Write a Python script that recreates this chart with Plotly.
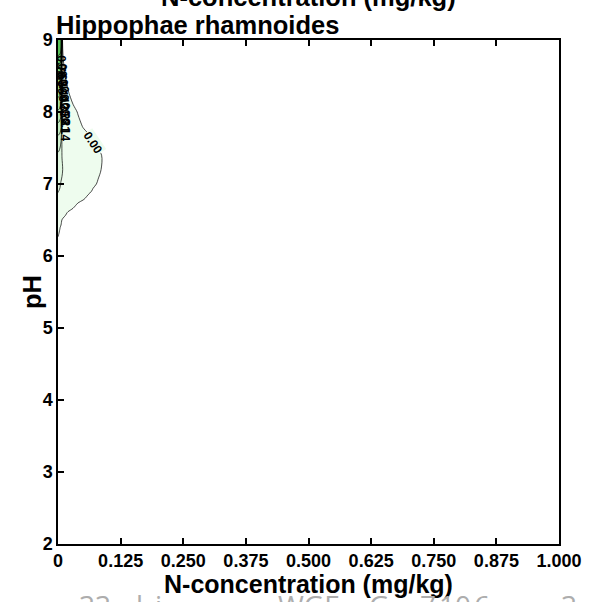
import plotly.graph_objects as go

# grid of N-concentration (x) and pH (y) with estimated contour values
n_conc = [0, 0.002, 0.004, 0.006, 0.008, 0.01, 0.015, 0.02, 0.03, 0.04, 0.05, 0.06, 0.07, 0.08, 0.09, 0.1, 1.0]
ph = [2.0, 6.0, 6.25, 6.4, 6.5, 6.6, 6.7, 6.8, 6.9, 7.0, 7.2, 7.4, 7.6, 7.8, 8.0, 8.2, 8.4, 8.6, 8.8, 9.0]
z_vals = [
    [-0.05, -0.05, -0.05, -0.05, -0.05, -0.05, -0.05, -0.05, -0.05, -0.05, -0.05, -0.05, -0.05, -0.05, -0.05, -0.05, -0.05],
    [-0.03, -0.03, -0.03, -0.03, -0.03, -0.03, -0.03, -0.03, -0.03, -0.03, -0.03, -0.03, -0.03, -0.03, -0.03, -0.03, -0.05],
    [-0.001, -0.004, -0.008, -0.012, -0.016, -0.02, -0.02, -0.02, -0.02, -0.02, -0.02, -0.02, -0.02, -0.02, -0.02, -0.02, -0.05],
    [0.008, 0.005, 0.001, -0.003, -0.008, -0.012, -0.02, -0.02, -0.02, -0.02, -0.02, -0.02, -0.02, -0.02, -0.02, -0.02, -0.05],
    [0.02, 0.016, 0.012, 0.007, -0.001, -0.006, -0.015, -0.02, -0.02, -0.02, -0.02, -0.02, -0.02, -0.02, -0.02, -0.02, -0.05],
    [0.035, 0.032, 0.029, 0.026, 0.022, 0.018, 0.008, -0.005, -0.02, -0.02, -0.02, -0.02, -0.02, -0.02, -0.02, -0.02, -0.05],
    [0.05, 0.048, 0.046, 0.044, 0.042, 0.04, 0.034, 0.028, 0.012, -0.012, -0.02, -0.02, -0.02, -0.02, -0.02, -0.02, -0.05],
    [0.062, 0.06, 0.058, 0.056, 0.054, 0.052, 0.047, 0.042, 0.032, 0.02, 0.006, -0.009, -0.02, -0.02, -0.02, -0.02, -0.05],
    [0.072, 0.069, 0.066, 0.063, 0.06, 0.057, 0.052, 0.047, 0.038, 0.03, 0.021, 0.009, -0.004, -0.015, -0.02, -0.02, -0.05],
    [0.085, 0.08, 0.074, 0.066, 0.061, 0.058, 0.052, 0.047, 0.04, 0.033, 0.025, 0.017, 0.006, -0.003, -0.012, -0.02, -0.05],
    [0.105, 0.1, 0.094, 0.087, 0.078, 0.066, 0.06, 0.055, 0.047, 0.04, 0.032, 0.024, 0.016, 0.006, -0.004, -0.014, -0.05],
    [0.13, 0.125, 0.115, 0.1, 0.068, 0.062, 0.058, 0.052, 0.046, 0.04, 0.033, 0.025, 0.017, 0.007, -0.003, -0.013, -0.05],
    [0.18, 0.175, 0.165, 0.145, 0.06, 0.05, 0.046, 0.043, 0.036, 0.028, 0.02, 0.01, -0.001, -0.01, -0.015, -0.02, -0.05],
    [0.26, 0.255, 0.245, 0.225, 0.06, 0.05, 0.044, 0.038, 0.025, 0.012, -0.002, -0.01, -0.015, -0.02, -0.02, -0.02, -0.05],
    [0.34, 0.335, 0.325, 0.3, 0.06, 0.048, 0.04, 0.032, 0.014, -0.003, -0.01, -0.015, -0.02, -0.02, -0.02, -0.02, -0.05],
    [0.42, 0.415, 0.405, 0.38, 0.06, 0.045, 0.03, 0.012, -0.012, -0.02, -0.02, -0.02, -0.02, -0.02, -0.02, -0.02, -0.05],
    [0.5, 0.495, 0.485, 0.46, 0.06, 0.04, 0.012, -0.01, -0.02, -0.02, -0.02, -0.02, -0.02, -0.02, -0.02, -0.02, -0.05],
    [0.6, 0.595, 0.585, 0.56, 0.06, 0.02, -0.02, -0.02, -0.02, -0.02, -0.02, -0.02, -0.02, -0.02, -0.02, -0.02, -0.05],
    [0.71, 0.705, 0.698, 0.68, 0.06, -0.002, -0.02, -0.02, -0.02, -0.02, -0.02, -0.02, -0.02, -0.02, -0.02, -0.02, -0.05],
    [0.78, 0.775, 0.77, 0.76, 0.3, -0.3, -0.02, -0.02, -0.02, -0.02, -0.02, -0.02, -0.02, -0.02, -0.02, -0.02, -0.05],
]

levels_start, levels_end, levels_step = 0.0, 0.70, 0.07

x_tickvals = [0, 0.125, 0.25, 0.375, 0.5, 0.625, 0.75, 0.875, 1.0]
x_ticktext = ["0", "0.125", "0.250", "0.375", "0.500", "0.625", "0.750", "0.875", "1.000"]
y_tickvals = [2, 3, 4, 5, 6, 7, 8, 9]

title_text = "Hippophae rhamnoides"
x_title = "N-concentration (mg/kg)"
y_title = "pH"
# partly visible grey caption below the figure (only glyph tops show)
footer_words = ["33", "l", "i", "WGE", "G", "7", "10", "6", "3"]
footer_px = [95, 140, 160, 312, 383, 432, 460, 487, 575]

# band colours: white below 0, then white -> green
band_colors = ["#ffffff", "#eefcee", "#e0f7e0", "#d1f2d1", "#c2ecc2", "#b3e7b3",
               "#a4e2a4", "#95dc95", "#86d786", "#77d177", "#68cc68", "#58c458"]
colorscale = [[i / (len(band_colors) - 1), c] for i, c in enumerate(band_colors)]

fig = go.Figure()
fig.add_trace(go.Contour(
    x=n_conc, y=ph, z=z_vals,
    contours=dict(start=levels_start, end=levels_end, size=levels_step, coloring="fill",
                  showlabels=False),
    colorscale=colorscale, showscale=False,
    line=dict(color="black", width=0.7, smoothing=1),
    hoverinfo="skip",
))

FONT = "Liberation Sans, Arial, sans-serif"
LABEL_FONT = dict(family=FONT, size=12, color="black", weight="bold")

annotations = [
    dict(text=title_text, xref="paper", yref="paper", x=0, y=1,
         xanchor="left", yanchor="bottom", xshift=-4, yshift=-1, showarrow=False,
         font=dict(family=FONT, size=25.5, color="black", weight="bold")),
    dict(text=x_title, xref="paper", yref="paper", x=0.5, y=1,
         xanchor="center", yanchor="bottom", yshift=27, showarrow=False,
         font=dict(family=FONT, size=25.5, color="black", weight="bold")),
    dict(text=x_title, xref="paper", yref="paper", x=0.5, y=0,
         xanchor="center", yanchor="top", yshift=-24, showarrow=False,
         font=dict(family=FONT, size=25, color="black", weight="bold")),
    dict(text=y_title, xref="paper", yref="paper", x=0, y=0.5,
         xanchor="center", yanchor="middle", xshift=-26, textangle=-90,
         showarrow=False, font=dict(family=FONT, size=25.5, color="black", weight="bold")),
    # contour label on the 0.00 line
    dict(text=f"{levels_start:.2f}", x=0.07, y=7.57, xref="x", yref="y",
         textangle=56, showarrow=False, font=LABEL_FONT,
         bgcolor=band_colors[1], borderpad=0),
]

for word, px in zip(footer_words, footer_px):
    annotations.append(dict(
        text=word, xref="paper", yref="paper", x=(px - 58) / 507, y=0,
        xanchor="center", yanchor="top", yshift=-40, showarrow=False,
        font=dict(family="Open Sans, sans-serif", size=28, color="#adadad")))

# stacked labels of the upper contour levels along the left edge
stack_levels = [round(levels_end - i * levels_step, 2) for i in range(9)]
for i, lv in enumerate(stack_levels):
    annotations.append(dict(
        text=f"{lv:.2f}", x=0.006 + i * 0.0012, y=8.62 - i * 0.108,
        xref="x", yref="y", textangle=90, showarrow=False,
        font=dict(family=FONT, size=12, color="black", weight="bold")))

fig.update_layout(
    width=594, height=602,
    margin=dict(l=58, r=29, t=40, b=58),
    paper_bgcolor="white", plot_bgcolor="white",
    showlegend=False,
    font=dict(family=FONT, color="black"),
    xaxis=dict(range=[0, 1], tickvals=x_tickvals, ticktext=x_ticktext,
               ticks="inside", ticklen=6, tickwidth=1.5, tickcolor="black",
               showline=True, linecolor="black", linewidth=1.5, mirror="ticks",
               showgrid=False, zeroline=False,
               tickfont=dict(family=FONT, size=18, color="black", weight="bold")),
    yaxis=dict(range=[2, 9], tickvals=y_tickvals,
               ticks="inside", ticklen=6, tickwidth=1.5, tickcolor="black",
               showline=True, linecolor="black", linewidth=1.5, mirror=True,
               showgrid=False, zeroline=False,
               tickfont=dict(family=FONT, size=18, color="black", weight="bold")),
    annotations=annotations,
)

fig.write_html("out.html")
